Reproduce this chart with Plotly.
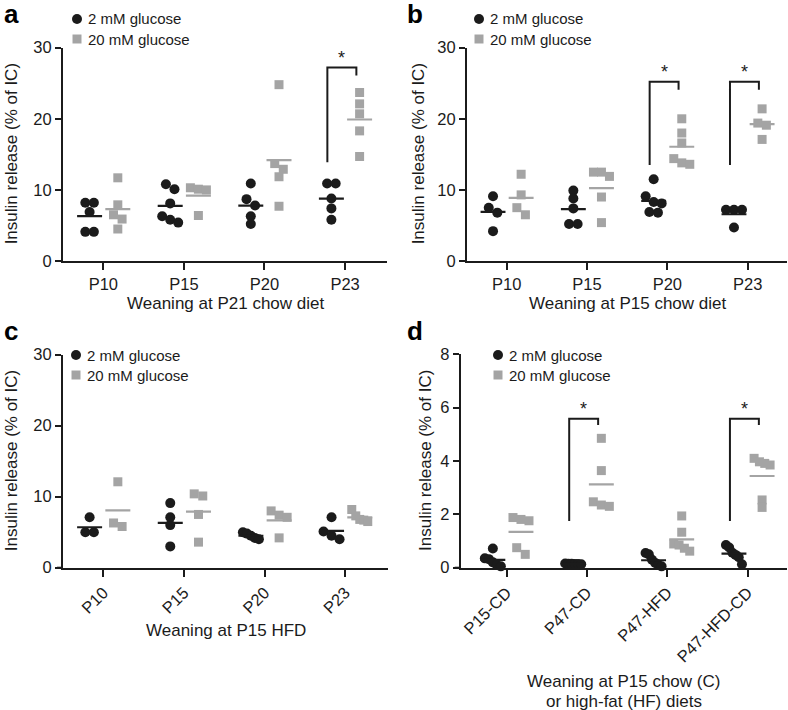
import numpy as np
import plotly.graph_objects as go

# ---------------- data ----------------
CATS_ABC = ["P10", "P15", "P20", "P23"]
CATS_D = ["P15-CD", "P47-CD", "P47-HFD", "P47-HFD-CD"]
SERIES_NAMES = ["2 mM glucose", "20 mM glucose"]

A_LOW = [[8.2, 8.2, 6.9, 4.1, 4.1], [10.8, 10.1, 8.1, 6.3, 5.8, 5.4],
         [10.9, 8.7, 7.8, 6.3, 5.2], [10.9, 10.9, 8.8, 7.4, 5.8]]
A_HIGH = [[11.7, 7.9, 6.5, 5.9, 4.5], [10.3, 10.1, 10.0, 6.4],
          [24.8, 13.7, 12.9, 11.85, 7.7], [23.7, 22.1, 20.7, 18.3, 14.7]]
B_LOW = [[9.1, 7.5, 6.8, 4.2], [9.9, 8.8, 7.4, 5.2, 5.2],
         [11.5, 9.1, 8.3, 8.1, 6.9, 6.8], [7.2, 7.2, 7.2, 4.7]]
B_HIGH = [[12.2, 9.3, 7.5, 6.5], [12.5, 12.5, 11.9, 9.0, 5.4],
          [20.0, 18.0, 16.6, 14.4, 13.8, 13.6], [21.4, 19.4, 19.1, 17.1]]
C_LOW = [[7.1, 5.0, 5.0], [9.1, 7.1, 6.0, 3.0],
         [5.0, 4.8, 4.5, 4.2, 4.0], [7.1, 5.1, 4.5, 4.0]]
C_HIGH = [[12.1, 6.3, 5.8], [10.4, 10.1, 7.5, 3.6],
          [8.0, 7.4, 7.1, 4.2], [8.2, 7.3, 6.8, 6.7, 6.5]]
D_LOW = [[0.72, 0.35, 0.32, 0.20, 0.10, 0.05], [0.16, 0.15, 0.15, 0.14, 0.14, 0.13],
         [0.55, 0.50, 0.30, 0.18, 0.10, 0.05], [0.85, 0.76, 0.56, 0.48, 0.39, 0.13]]
D_HIGH = [[1.88, 1.81, 1.76, 0.75, 0.50], [4.85, 3.64, 2.47, 2.35, 2.30],
          [1.94, 1.33, 0.89, 0.85, 0.73, 0.62], [4.10, 3.97, 3.91, 3.85, 2.54, 2.26]]

SIGNIF_A = ["P23"]
SIGNIF_B = ["P20", "P23"]
SIGNIF_C = []
SIGNIF_D = ["P47-CD", "P47-HFD-CD"]

# ---------------- style / layout ----------------
W, H = 788, 710
FONT = "Liberation Sans, Arial, Helvetica, sans-serif"
BLACK = "#1b1b1b"
GREY = "#a4a4a4"
LOW_OFF, HIGH_OFF = -0.17, 0.18
HALF_MEAN = 0.155

# pixel boxes: (left, right, top, bottom)
PANELS = [
    dict(letter="a", box=(63, 387, 47.7, 261), xr=[-0.5, 3.52], yr=[0, 30], dt=10,
         cats=CATS_ABC, low=A_LOW, high=A_HIGH, sig=SIGNIF_A, angle=0,
         br=(27.2, 13.9, 26.1), title=["Weaning at P21 chow diet"], ty=[303],
         ytx=11, letter_xy=(2, -3), leg=(77, 19)),
    dict(letter="b", box=(467, 787, 47.7, 261), xr=[-0.494, 3.49], yr=[0, 30], dt=10,
         cats=CATS_ABC, low=B_LOW, high=B_HIGH, sig=SIGNIF_B, angle=0,
         br=(25.2, 13.5, 24.1), title=["Weaning at P15 chow diet"], ty=[303],
         ytx=418, letter_xy=(405, -3), leg=(479, 19)),
    dict(letter="c", box=(63, 388, 354.7, 567.7), xr=[-0.5, 3.53], yr=[0, 30], dt=10,
         cats=CATS_ABC, low=C_LOW, high=C_HIGH, sig=SIGNIF_C, angle=-45,
         br=None, title=["Weaning at P15 HFD"], ty=[630],
         ytx=11, letter_xy=(2, 314), leg=(76, 355)),
    dict(letter="d", box=(460.7, 787, 354.3, 567.7), xr=[-0.57, 3.49], yr=[0, 8], dt=2,
         cats=CATS_D, low=D_LOW, high=D_HIGH, sig=SIGNIF_D, angle=-45,
         br=(5.58, 1.75, 5.35), title=["Weaning at P15 chow (C)", "or high-fat (HF) diets"],
         ty=[681.5, 701.5], ytx=425, letter_xy=(405, 314), leg=(498, 355)),
]


def px_x(p):
    return p / W


def px_y(p):
    return 1 - p / H


def swarm(vals, ppu_y, ppu_x, diam=9.0, max_half=8.0):
    """Simple symmetric beeswarm: returns x offsets (data units)."""
    order = sorted(range(len(vals)), key=lambda k: -vals[k])
    clusters = []
    for k in order:
        if clusters and (vals[clusters[-1][-1]] - vals[k]) * ppu_y < diam * 0.8:
            clusters[-1].append(k)
        else:
            clusters.append([k])
    offs = [0.0] * len(vals)
    for cl in clusters:
        n = len(cl)
        if n == 1:
            continue
        step = min(diam * 0.95, 2 * max_half / (n - 1))
        for j, k in enumerate(cl):
            offs[k] = (j - (n - 1) / 2) * step / ppu_x
    return offs


fig = go.Figure()
shapes, annotations = [], []
layout_axes = {}

for pi, P in enumerate(PANELS):
    idx = "" if pi == 0 else str(pi + 1)
    xa, ya = "x" + idx, "y" + idx
    l, r, t, b = P["box"]
    ppu_x = (r - l) / (P["xr"][1] - P["xr"][0])
    ppu_y = (b - t) / (P["yr"][1] - P["yr"][0])
    ncat = len(P["cats"])

    for series, off, color, sym, size in ((P["low"], LOW_OFF, BLACK, "circle", 10),
                                          (P["high"], HIGH_OFF, GREY, "square", 9)):
        xs, ys = [], []
        for ci, vals in enumerate(series):
            jit = swarm(vals, ppu_y, ppu_x)
            xs += [ci + off + j for j in jit]
            ys += list(vals)
        fig.add_trace(go.Scatter(x=xs, y=ys, xaxis=xa, yaxis=ya, mode="markers",
                                 marker=dict(symbol=sym, size=size, color=color,
                                             line=dict(width=0)),
                                 cliponaxis=False, showlegend=False, hoverinfo="y"))
        # mean lines
        mx, my = [], []
        for ci, vals in enumerate(series):
            m = float(np.mean(vals))
            mx += [ci + off - HALF_MEAN, ci + off + HALF_MEAN, None]
            my += [m, m, None]
        fig.add_trace(go.Scatter(x=mx, y=my, xaxis=xa, yaxis=ya, mode="lines",
                                 line=dict(color=color, width=2.2),
                                 cliponaxis=False, showlegend=False, hoverinfo="skip"))

    # significance brackets
    for cat in P["sig"]:
        ci = P["cats"].index(cat)
        top, lbot, rbot = P["br"]
        xl, xr_ = ci - 0.22, ci + 0.14
        shapes.append(dict(type="path", xref=xa, yref=ya,
                           path=f"M {xl},{lbot} L {xl},{top} L {xr_},{top} L {xr_},{rbot}",
                           line=dict(color=BLACK, width=2)))
        annotations.append(dict(x=(xl + xr_) / 2, y=top, xref=xa, yref=ya, text="*",
                                showarrow=False, yanchor="bottom", yshift=-2,
                                font=dict(family=FONT, size=18, color=BLACK)))

    # small extension of the x-axis line to the left of the y axis (GraphPad style)
    shapes.append(dict(type="line", xref="paper", yref="paper",
                       x0=px_x(l - 6), x1=px_x(l), y0=px_y(b), y1=px_y(b),
                       line=dict(color=BLACK, width=2)))

    tickfont = dict(family=FONT, size=16.5, color=BLACK)
    layout_axes["xaxis" + idx] = dict(
        domain=[px_x(l), px_x(r)], range=P["xr"], anchor=ya, automargin=False,
        tickmode="array", tickvals=list(range(ncat)), ticktext=P["cats"],
        tickangle=P["angle"], showline=True, linecolor=BLACK, linewidth=2,
        ticks="outside", ticklen=7, tickwidth=2, tickcolor=BLACK,
        showgrid=False, zeroline=False, tickfont=tickfont, fixedrange=True)
    layout_axes["yaxis" + idx] = dict(
        domain=[px_y(b), px_y(t)], range=P["yr"], anchor=xa, automargin=False,
        tickmode="linear", tick0=0, dtick=P["dt"], showline=True, linecolor=BLACK,
        linewidth=2, ticks="outside", ticklen=6, tickwidth=2, tickcolor=BLACK,
        showgrid=False, zeroline=False, tickfont=tickfont, fixedrange=True)

    # y title
    annotations.append(dict(x=px_x(P["ytx"]), y=px_y((t + b) / 2), xref="paper", yref="paper",
                            text="Insulin release (% of IC)", textangle=-90, showarrow=False,
                            xanchor="center", yanchor="middle",
                            font=dict(family=FONT, size=17, color=BLACK)))
    # x title lines
    for line, yy in zip(P["title"], P["ty"]):
        annotations.append(dict(x=px_x((l + r) / 2), y=px_y(yy), xref="paper", yref="paper",
                                text=line, showarrow=False, xanchor="center", yanchor="middle",
                                font=dict(family=FONT, size=17, color=BLACK)))
    # panel letter
    lx, ly = P["letter_xy"]
    annotations.append(dict(x=px_x(lx), y=px_y(ly), xref="paper", yref="paper",
                            text="<b>" + P["letter"] + "</b>", showarrow=False,
                            xanchor="left", yanchor="top",
                            font=dict(family=FONT, size=26, color="#000")))
    # legend (keys drawn as shapes + labels)
    gx, gy = P["leg"]
    rr = 5
    shapes.append(dict(type="circle", xref="paper", yref="paper",
                       x0=px_x(gx - rr), x1=px_x(gx + rr), y0=px_y(gy + rr), y1=px_y(gy - rr),
                       fillcolor=BLACK, line=dict(width=0)))
    sq = 4.5
    shapes.append(dict(type="rect", xref="paper", yref="paper",
                       x0=px_x(gx - sq), x1=px_x(gx + sq), y0=px_y(gy + 20 + sq),
                       y1=px_y(gy + 20 - sq), fillcolor=GREY, line=dict(width=0)))
    for k, name in enumerate(SERIES_NAMES):
        annotations.append(dict(x=px_x(gx + 9), y=px_y(gy + 20 * k), xref="paper", yref="paper",
                                text=name, showarrow=False, xanchor="left", yanchor="middle",
                                font=dict(family=FONT, size=15, color=BLACK)))

fig.update_layout(width=W, height=H, autosize=False,
                  margin=dict(l=0, r=0, t=0, b=0, pad=0, autoexpand=False),
                  paper_bgcolor="white", plot_bgcolor="white", showlegend=False,
                  shapes=shapes, annotations=annotations, **layout_axes)

fig.write_html("out.html", config={"displayModeBar": False},
               post_script="document.body.style.margin='0';")
